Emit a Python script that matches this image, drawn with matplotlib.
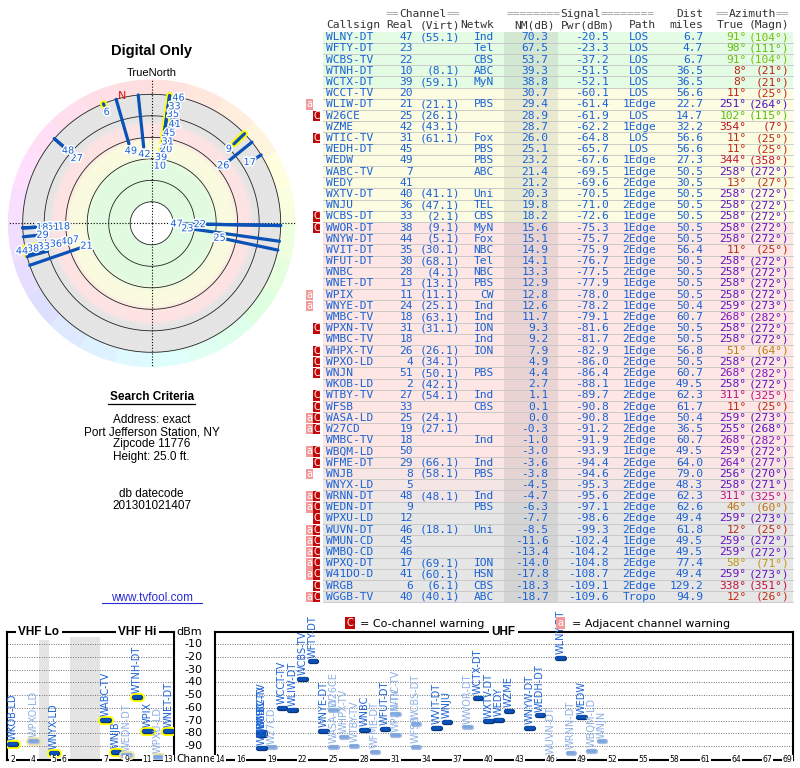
import numpy as np
import matplotlib
matplotlib.use('Agg')
import matplotlib.pyplot as plt
import matplotlib.patheffects as pe
from matplotlib.colors import hsv_to_rgb, to_rgb
from matplotlib.patches import Rectangle

# ---------------- station data (TV Fool report) ----------------
callsigns = ['WLNY-DT', 'WFTY-DT', 'WCBS-TV', 'WTNH-DT', 'WCTX-DT', 'WCCT-TV', 'WLIW-DT', 'W26CE',
             'WZME', 'WTIC-TV', 'WEDH-DT', 'WEDW', 'WABC-TV', 'WEDY', 'WXTV-DT', 'WNJU', 'WCBS-DT',
             'WWOR-DT', 'WNYW-DT', 'WVIT-DT', 'WFUT-DT', 'WNBC', 'WNET-DT', 'WPIX', 'WNYE-DT',
             'WMBC-TV', 'WPXN-TV', 'WMBC-TV', 'WHPX-TV', 'WPXO-LD', 'WNJN', 'WKOB-LD', 'WTBY-TV',
             'WFSB', 'WASA-LD', 'W27CD', 'WMBC-TV', 'WBQM-LD', 'WFME-DT', 'WNJB', 'WNYX-LD',
             'WRNN-DT', 'WEDN-DT', 'WPXU-LD', 'WUVN-DT', 'WMUN-CD', 'WMBQ-CD', 'WPXQ-DT', 'W41DO-D',
             'WRGB', 'WGGB-TV']
real_ch = [47, 23, 22, 10, 39, 20, 21, 25, 42, 31, 45, 49, 7, 41, 40, 36, 33, 38, 44, 35, 30, 28,
           13, 11, 24, 18, 31, 18, 26, 4, 51, 2, 27, 33, 25, 19, 18, 50, 29, 8, 5, 48, 9, 12, 46,
           45, 46, 17, 41, 6, 40]
virt_ch = ['55.1', '', '', '8.1', '59.1', '', '21.1', '26.1', '43.1', '61.1', '', '', '', '',
           '41.1', '47.1', '2.1', '9.1', '5.1', '30.1', '68.1', '4.1', '13.1', '11.1', '25.1',
           '63.1', '31.1', '', '26.1', '34.1', '50.1', '42.1', '54.1', '', '24.1', '27.1', '', '',
           '66.1', '58.1', '', '48.1', '', '', '18.1', '', '', '69.1', '60.1', '6.1', '40.1']
networks = ['Ind', 'Tel', 'CBS', 'ABC', 'MyN', '', 'PBS', '', '', 'Fox', 'PBS', 'PBS', 'ABC', '',
            'Uni', 'TEL', 'CBS', 'MyN', 'Fox', 'NBC', 'Tel', 'NBC', 'PBS', 'CW', 'Ind', 'Ind',
            'ION', 'Ind', 'ION', '', 'PBS', '', 'Ind', 'CBS', '', '', 'Ind', '', 'Ind', 'PBS', '',
            'Ind', 'PBS', '', 'Uni', '', '', 'ION', 'HSN', 'CBS', 'ABC']
nm_db = [70.3, 67.5, 53.7, 39.3, 38.8, 30.7, 29.4, 28.9, 28.7, 26.0, 25.1, 23.2, 21.4, 21.2, 20.3,
         19.8, 18.2, 15.6, 15.1, 14.9, 14.1, 13.3, 12.9, 12.8, 12.6, 11.7, 9.3, 9.2, 7.9, 4.9, 4.4,
         2.7, 1.1, 0.1, 0.0, -0.3, -1.0, -3.0, -3.6, -3.8, -4.5, -4.7, -6.3, -7.7, -8.5, -11.6,
         -13.4, -14.0, -17.8, -18.3, -18.7]
pwr_dbm = [-20.5, -23.3, -37.2, -51.5, -52.1, -60.1, -61.4, -61.9, -62.2, -64.8, -65.7, -67.6,
           -69.5, -69.6, -70.5, -71.0, -72.6, -75.3, -75.7, -75.9, -76.7, -77.5, -77.9, -78.0,
           -78.2, -79.1, -81.6, -81.7, -82.9, -86.0, -86.4, -88.1, -89.7, -90.8, -90.8, -91.2,
           -91.9, -93.9, -94.4, -94.6, -95.3, -95.6, -97.1, -98.6, -99.3, -102.4, -104.2, -104.8,
           -108.7, -109.1, -109.6]
paths = ['LOS', 'LOS', 'LOS', 'LOS', 'LOS', 'LOS', '1Edge', 'LOS', '1Edge', 'LOS', 'LOS', '1Edge',
         '1Edge', '2Edge', '1Edge', '2Edge', '1Edge', '1Edge', '2Edge', '2Edge', '1Edge', '2Edge',
         '1Edge', '1Edge', '1Edge', '2Edge', '2Edge', '2Edge', '1Edge', '2Edge', '2Edge', '1Edge',
         '2Edge', '2Edge', '1Edge', '2Edge', '2Edge', '1Edge', '2Edge', '2Edge', '2Edge', '2Edge',
         '2Edge', '2Edge', '2Edge', '1Edge', '1Edge', '2Edge', '2Edge', '2Edge', 'Tropo']
dist_mi = [6.7, 4.7, 6.7, 36.5, 36.5, 56.6, 22.7, 14.7, 32.2, 56.6, 56.6, 27.3, 50.5, 30.5, 50.5,
           50.5, 50.5, 50.5, 50.5, 56.4, 50.5, 50.5, 50.5, 50.5, 50.4, 60.7, 50.5, 50.5, 56.8,
           50.5, 60.7, 49.5, 62.3, 61.7, 50.4, 36.5, 60.7, 49.5, 64.0, 79.0, 48.3, 62.3, 62.6,
           49.4, 61.8, 49.5, 49.5, 77.4, 49.4, 129.2, 94.9]
az_true = [91, 98, 91, 8, 8, 11, 251, 102, 354, 11, 11, 344, 258, 13, 258, 258, 258, 258, 258, 11,
           258, 258, 258, 258, 259, 268, 258, 258, 51, 258, 268, 258, 311, 11, 259, 255, 268, 259,
           264, 256, 258, 311, 46, 259, 12, 259, 259, 58, 259, 338, 12]
az_magn = [104, 111, 104, 21, 21, 25, 264, 115, 7, 25, 25, 358, 272, 27, 272, 272, 272, 272, 272,
           25, 272, 272, 272, 272, 273, 282, 272, 272, 64, 272, 282, 272, 325, 25, 273, 268, 282,
           272, 277, 270, 271, 325, 60, 273, 25, 272, 272, 71, 273, 351, 26]
warn = ['', '', '', '', '', '', 'a', 'C', '', 'C', '', '', '', '', '', '', 'C', 'C', '', '', '',
        '', '', 'a', 'a', '', 'C', '', 'C', 'C', 'C', '', 'C', 'C', 'aC', 'aC', '', 'aC', 'C', 'a',
        '', 'aC', 'aC', 'C', 'aC', 'aC', 'aC', 'aC', 'aC', 'C', 'aC']

search_lines = ['Address: exact', 'Port Jefferson Station, NY', 'Zipcode 11776', 'Height: 25.0 ft.']
datecode = '201301021407'
vhf_ticks = [2, 4, 5, 6, 7, 9, 11, 13]
uhf_ticks = [14, 16, 19, 22, 25, 28, 31, 34, 37, 40, 43, 46, 49, 52, 55, 58, 61, 64, 67, 69]
dbm_ticks = [-10, -20, -30, -40, -50, -60, -70, -80, -90]

# ---------------- styling ----------------
W, H = 800, 768
BLUE = '#1a62d6'
LIGHT_BLUE = '#8db0e6'
BAR_DARK = '#0a52b8'
MONO = 'DejaVu Sans Mono'
SANS = 'Liberation Sans'
GREEN, YELLOW, PINK, GRAY = '#e4fbe4', '#fcfce2', '#fde6e4', '#e6e6e6'


def row_color(v):
    anchors = [-6.3, -3.0, 15.6, 18.2, 30.7, 38.8]
    cols = np.array([to_rgb(c) for c in [GRAY, PINK, PINK, YELLOW, YELLOW, GREEN]])
    return tuple(np.interp(v, anchors, cols[:, k]) for k in range(3))


def az_hue(az):
    return np.interp(az, [0, 51, 91, 180, 258, 311, 338, 360],
                     [0, 38, 85, 180, 268, 320, 345, 360]) / 360.0


def az_color(az):
    return hsv_to_rgb((az_hue(az), 0.9, 0.75))


fig = plt.figure(figsize=(W / 100, H / 100), dpi=100)
base = fig.add_axes([0, 0, 1, 1])
base.set_xlim(0, W)
base.set_ylim(H, 0)
base.axis('off')

# ---------------- station table ----------------
ROW0, ROWH = 37.3, 11.19
X0, X1 = 323.3, 792.7
CW = 6.77
FS = 8.1
n = len(callsigns)
for i in range(n):
    yc = ROW0 + i * ROWH
    base.add_patch(Rectangle((X0, yc - ROWH / 2), X1 - X0, ROWH, fc=row_color(nm_db[i]), ec='none'))
    base.plot([X0, X1], [yc + ROWH / 2] * 2, color='#c4c4c4', lw=0.6)
base.add_patch(Rectangle((504, ROW0 - ROWH / 2), 54, n * ROWH, fc='k', alpha=0.075, ec='none'))

hdr_dark, hdr_gray = '#333333', '#a0a0a0'
def mono(x, y, s, color, ha='left'):
    base.text(x, y, s, family=MONO, fontsize=FS, color=color, ha=ha, va='center')

y1, y2 = 14, 25.3
left = 460 - 11 * CW
mono(left, y1, '==', hdr_gray); mono(left + 2 * CW, y1, 'Channel', hdr_dark); mono(left + 9 * CW, y1, '==', hdr_gray)
left = 655 - 22 * CW
mono(left, y1, '========', hdr_gray); mono(left + 8 * CW, y1, 'Signal', hdr_dark); mono(left + 14 * CW, y1, '========', hdr_gray)
mono(703, y1, 'Dist', hdr_dark, 'right')
left = 789.5 - 11 * CW
mono(left, y1, '==', hdr_gray); mono(left + 2 * CW, y1, 'Azimuth', hdr_dark); mono(left + 9 * CW, y1, '==', hdr_gray)
for s, x, ha in [('Callsign', 326, 'left'), ('Real', 413, 'right'), ('(Virt)', 460, 'right'),
                 ('Netwk', 494, 'right'), ('NM(dB)', 555, 'right'), ('Pwr(dBm)', 615, 'right'),
                 ('Path', 655.5, 'right'), ('miles', 703, 'right'), ('True', 743.5, 'right'),
                 ('(Magn)', 789.5, 'right')]:
    mono(x, y2, s, hdr_dark, ha)

for i in range(n):
    yc = ROW0 + i * ROWH
    mono(326, yc, callsigns[i], BLUE)
    mono(413, yc, str(real_ch[i]), BLUE, 'right')
    if virt_ch[i]:
        mono(460, yc, '(%s)' % virt_ch[i], BLUE, 'right')
    mono(494, yc, networks[i], BLUE, 'right')
    mono(548.5, yc, '%.1f' % nm_db[i], BLUE, 'right')
    mono(608.5, yc, '%.1f' % pwr_dbm[i], BLUE, 'right')
    mono(639.5, yc, paths[i], BLUE, 'center')
    mono(703, yc, '%.1f' % dist_mi[i], BLUE, 'right')
    mono(746.5, yc, '%d\u00b0' % az_true[i], az_color(az_true[i]), 'right')
    mono(789.5, yc, '(%d\u00b0)' % az_magn[i], az_color(az_true[i]), 'right')
    if 'a' in warn[i]:
        base.add_patch(Rectangle((305.8, yc - 5), 7.3, 10.4, fc='#f29a9a', ec='none'))
        base.text(309.5, yc, 'a', fontsize=7, color='white', ha='center', va='center', family='DejaVu Sans')
    if 'C' in warn[i]:
        base.add_patch(Rectangle((313.1, yc - 5), 7.3, 10.4, fc='#c20808', ec='none'))
        base.text(316.8, yc, 'C', fontsize=7, color='white', ha='center', va='center', family='DejaVu Sans')

# ---------------- left column texts ----------------
CX, CY, RPX = 151.7, 223.3, 144.0
base.text(CX, 50.7, 'Digital Only', family=SANS, fontsize=10.5, weight='bold', ha='center', va='center')
base.text(CX, 73.3, 'TrueNorth', family=SANS, fontsize=8, ha='center', va='center')
base.text(CX, 397.3, 'Search Criteria', family=SANS, fontsize=8.5, weight='bold', ha='center', va='center')
base.plot([108.3, 195], [404.3, 404.3], color='k', lw=0.9)
for s, y in zip(search_lines, [420, 432.7, 444.3, 457.3]):
    base.text(CX, y, s, family=SANS, fontsize=8.5, ha='center', va='center')
base.text(CX, 494, 'db datecode', family=SANS, fontsize=8.5, ha='center', va='center')
base.text(CX, 506, datecode, family=SANS, fontsize=8.5, ha='center', va='center')
base.text(CX, 598.3, 'www.tvfool.com', family=SANS, fontsize=8.5, ha='center', va='center', color='#2b2bd4')
base.plot([102.3, 201.7], [602.9, 602.9], color='#2b2bd4', lw=0.8)

# ---------------- polar compass ----------------
PXU = 1.075          # pixels per dB of noise margin
RHO_MAX = RPX / PXU  # radial units, rho = 100 - NM
pax = fig.add_axes([(CX - RPX) / W, 1 - (CY + RPX) / H, 2 * RPX / W, 2 * RPX / H], projection='polar')
pax.set_theta_zero_location('N')
pax.set_theta_direction(-1)
pax.set_ylim(0, RHO_MAX)
pax.axis('off')

seg = np.arange(24) * 15 + 7.5
pax.bar(np.radians(seg), RHO_MAX - 120, width=np.radians(15), bottom=120,
        color=[hsv_to_rgb((az_hue(a), 0.13, 1.0)) for a in seg], edgecolor='none', linewidth=0)

grad_nm = [80, 44, 36, 24, 19, 9, 4, -20]
grad_col = np.array([to_rgb(c) for c in ['#e0fbe0', '#e0fbe0', '#fafade', '#fafade', '#fde2e2',
                                         '#fde2e2', '#e4e4e4', '#e4e4e4']])
rr = np.linspace(20, 120, 101)
for r0, r1 in zip(rr[:-1], rr[1:]):
    v = 100 - (r0 + r1) / 2
    c = tuple(np.interp(-v, [-x for x in grad_nm], grad_col[:, k]) for k in range(3))
    pax.bar(np.pi, r1 - r0, width=2 * np.pi, bottom=r0, color=c, edgecolor=c, linewidth=0.3)

th = np.linspace(0, 2 * np.pi, 361)
for r in [20, 40, 60, 80, 100, 120]:
    pax.plot(th, np.full_like(th, r), color='#222222', lw=0.6, zorder=3)
for a in [0, 90, 180, 270]:
    pax.plot([np.radians(a)] * 2, [0, RHO_MAX], color='k', lw=0.8, ls=(0, (1, 1.6)), zorder=3)
pax.text(np.radians(347), 122, 'N', color='#e01010', fontsize=8, family='DejaVu Sans',
         ha='center', va='center', zorder=6)

placed = []
for i in range(n):
    t = np.radians(az_true[i])
    rho_in = 100 - nm_db[i]
    if real_ch[i] <= 13:
        pax.plot([t, t], [rho_in, 120], color='#ffff00', lw=5.0, solid_capstyle='round', zorder=4)
    pax.plot([t, t], [rho_in, 120], color=BAR_DARK, lw=2.3, solid_capstyle='round', zorder=5)

# channel labels just inside each line's inner end, pushed outward when they collide
for i in range(n):
    t = np.radians(az_true[i])
    lab = str(real_ch[i])
    w = 5.5 * len(lab) + 1
    rho = 100 - nm_db[i] - 6.5
    while rho <= 125.5:
        px = CX + rho * PXU * np.sin(t)
        py = CY - rho * PXU * np.cos(t)
        hit = any(abs(px - qx) < (w + qw) / 2 - 1.5 and abs(py - qy) < 7.5 for qx, qy, qw in placed)
        if not hit:
            placed.append((px, py, w))
            pax.text(t, rho, lab, color=BLUE, fontsize=7, family='DejaVu Sans', ha='center',
                     va='center', zorder=7, clip_on=False,
                     path_effects=[pe.withStroke(linewidth=2.2, foreground='white')])
            break
        rho += 2.5

# ---------------- channel bar charts ----------------
PY0, PY1 = 631.6, 759.9
GAP1, GAP2 = 5.7, 17.7


def fdisp(f):
    # frequency axis with the 72-76 MHz gap and the 88-174 MHz gap squeezed
    if f <= 72:
        return f
    if f <= 76:
        return 72 + (f - 72) * GAP1 / 4
    if f <= 88:
        return 72 + GAP1 + (f - 76)
    if f <= 174:
        return 84 + GAP1 + (f - 88) * GAP2 / 86
    return 84 + GAP1 + GAP2 + (f - 174)


def vhf_x(ch):
    if ch <= 4:
        lo = 54 + (ch - 2) * 6
    elif ch <= 6:
        lo = 76 + (ch - 5) * 6
    else:
        lo = 174 + (ch - 7) * 6
    return fdisp(lo + 3)


def px_axes(x0, x1, y0, y1):
    a = fig.add_axes([x0 / W, 1 - y1 / H, (x1 - x0) / W, (y1 - y0) / H])
    a.set_ylim(-101, 0)
    a.set_xticks([]); a.set_yticks([])
    a.patch.set_alpha(0)
    for s in a.spines.values():
        s.set_linewidth(1.5)
    for y in dbm_ticks:
        a.axhline(y, color='#707070', lw=0.7, ls=(0, (1, 1.5)), zorder=1)
    return a


vax = px_axes(7.3, 173.6, PY0, PY1)
vax.set_xlim(fdisp(54), fdisp(216))
vax.axvspan(fdisp(72), fdisp(76), ymin=0, ymax=0.96, color='#e4e4e4', zorder=0, lw=0)
vax.axvspan(fdisp(88), fdisp(174), ymin=0, ymax=0.96, color='#e4e4e4', zorder=0, lw=0)
uax = px_axes(214.8, 793.0, PY0, PY1)
uax.set_xlim(13.5, 69.5)

# panel titles sit on the top frame line, drawn at figure level so they cover it
for s, xx in [('VHF Lo', 39), ('VHF Hi', 137.5), ('UHF', 503.5)]:
    fig.text(xx / W, 1 - PY0 / H, s, fontsize=8.5, weight='bold', family=SANS, ha='center', va='center',
             bbox=dict(boxstyle='square,pad=0.2', fc='white', ec='none'))
for c in vhf_ticks:
    vax.text(vhf_x(c), -101, str(c), fontsize=5.5, family='DejaVu Sans', ha='center', va='center',
             bbox=dict(boxstyle='square,pad=0.1', fc='white', ec='none'), zorder=4, clip_on=False)
for c in uhf_ticks:
    uax.text(c, -101, str(c), fontsize=5.5, family='DejaVu Sans', ha='center', va='center',
             bbox=dict(boxstyle='square,pad=0.1', fc='white', ec='none'), zorder=4, clip_on=False)

base.text(189, 632, 'dBm', fontsize=8, family='DejaVu Sans', ha='center', va='center')
for k, y in enumerate(dbm_ticks):
    base.text(202.5, 644.3 + k * 12.7, str(y), fontsize=8, family='DejaVu Sans', ha='right', va='center')
base.text(176.5, 759.5, 'Channel', fontsize=7.5, family='DejaVu Sans', ha='left', va='center')

for i in range(n):
    if pwr_dbm[i] < -100:
        continue
    weak = 'C' in warn[i]
    vhf = real_ch[i] <= 13
    ax = vax if vhf else uax
    x = vhf_x(real_ch[i]) if vhf else real_ch[i]
    hw = 1.9 if vhf else 0.32
    fc = '#7ea6de' if weak else BAR_DARK
    ec = '#a9c0e2' if weak else '#07357a'
    effects = [pe.Stroke(linewidth=3.8, foreground=ec), pe.Normal()]
    if vhf:
        effects = [pe.Stroke(linewidth=6.6, foreground='#ece4a8' if weak else '#ffff00')] + effects
    ax.plot([x - hw, x + hw], [pwr_dbm[i]] * 2, color=fc, lw=2.6, solid_capstyle='round',
            path_effects=effects, zorder=3)
    ax.text(x, pwr_dbm[i] + 2.8, callsigns[i], rotation=90, ha='center', va='bottom', fontsize=7,
            family='DejaVu Sans', color=LIGHT_BLUE if weak else BLUE, clip_on=False, zorder=5)

# legend for warning flags
fig.text(349.7 / W, 1 - 623 / H, 'C', color='white', fontsize=7, family='DejaVu Sans', ha='center', va='center',
         bbox=dict(boxstyle='square,pad=0.15', fc='#c20808', ec='none'))
fig.text(360 / W, 1 - 624 / H, '= Co-channel warning', fontsize=8, family='DejaVu Sans', ha='left', va='center')
fig.text(560.5 / W, 1 - 623 / H, 'a', color='white', fontsize=7, family='DejaVu Sans', ha='center', va='center',
         bbox=dict(boxstyle='square,pad=0.15', fc='#f29a9a', ec='none'))
fig.text(571.7 / W, 1 - 624 / H, '= Adjacent channel warning', fontsize=8, family='DejaVu Sans', ha='left', va='center')

fig.savefig('out.png', dpi=100, facecolor='white')
